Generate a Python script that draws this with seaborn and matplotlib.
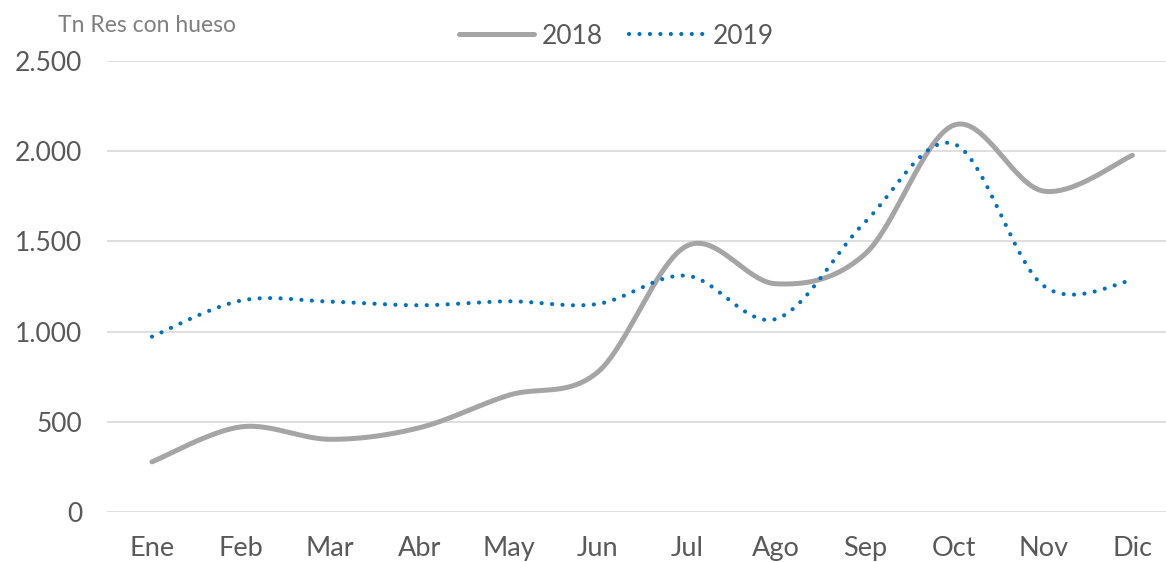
import numpy as np
import pandas as pd
import matplotlib
matplotlib.use("Agg")
import matplotlib.pyplot as plt
from matplotlib.ticker import FuncFormatter
from matplotlib.lines import Line2D
import seaborn as sns

months = ["Ene", "Feb", "Mar", "Abr", "May", "Jun", "Jul", "Ago", "Sep", "Oct", "Nov", "Dic"]
vals_2018 = [278, 472, 403, 467, 647, 775, 1475, 1265, 1430, 2145, 1779, 1977]
vals_2019 = [972, 1172, 1166, 1146, 1168, 1153, 1310, 1070, 1607, 2040, 1255, 1284]
series_names = ["2018", "2019"]
y_ticks = [0, 500, 1000, 1500, 2000, 2500]
y_label = "Tn Res con hueso"


def smooth(xs, ys, n=40):
    """Excel-style smoothed line (Catmull-Rom as cubic Bezier)."""
    xs = np.asarray(xs, float)
    ys = np.asarray(ys, float)
    px = np.concatenate([[xs[0]], xs, [xs[-1]]])
    py = np.concatenate([[ys[0]], ys, [ys[-1]]])
    ox, oy = [], []
    t = np.linspace(0, 1, n)
    for i in range(1, len(px) - 2):
        p0 = np.array([px[i], py[i]])
        p3 = np.array([px[i + 1], py[i + 1]])
        c1 = p0 + (p3 - np.array([px[i - 1], py[i - 1]])) / 6.0
        c2 = p3 - (np.array([px[i + 2], py[i + 2]]) - p0) / 6.0
        b = ((1 - t) ** 3)[:, None] * p0 + (3 * (1 - t) ** 2 * t)[:, None] * c1 \
            + (3 * (1 - t) * t ** 2)[:, None] * c2 + (t ** 3)[:, None] * p3
        if i > 1:
            b = b[1:]
        ox.extend(b[:, 0])
        oy.extend(b[:, 1])
    return np.array(ox), np.array(oy)


sns.set_style("white")
plt.rcParams["font.family"] = ["Lato", "DejaVu Sans"]

fig = plt.figure(figsize=(11.66, 5.62), dpi=100)
ax = fig.add_axes([107.4 / 1166, 50 / 562, 1069.6 / 1166, 451 / 562])

x = np.arange(len(months))
frames = []
for name, vals in zip(series_names, [vals_2018, vals_2019]):
    sx, sy = smooth(x, vals)
    frames.append(pd.DataFrame({"x": sx, "y": sy, "serie": name}))
df = pd.concat(frames, ignore_index=True)

gray = "#A5A5A5"
blue = "#0070C0"

sns.lineplot(data=df[df.serie == "2018"], x="x", y="y", sort=False, ax=ax,
             color=gray, linewidth=3.6, solid_capstyle="round", legend=False)
sns.lineplot(data=df[df.serie == "2019"], x="x", y="y", sort=False, ax=ax,
             color=blue, linewidth=3.0, legend=False,
             linestyle=(0, (0.01, 2.5)), dash_capstyle="round")

ax.set_xlim(-0.5, len(months) - 0.5)
ax.set_ylim(0, 2500)
ax.set_xticks(x)
ax.set_xticklabels(months)
ax.set_yticks(y_ticks)
ax.yaxis.set_major_formatter(FuncFormatter(lambda v, p: f"{int(v):,}".replace(",", ".")))
ax.grid(axis="y", color="#D9D9D9", linewidth=1.2)
ax.grid(axis="x", visible=False)
ax.set_axisbelow(True)
for s in ax.spines.values():
    s.set_visible(False)
ax.tick_params(axis="both", length=0, labelsize=19, colors="#595959")
ax.tick_params(axis="x", labelsize=19.5)
ax.tick_params(axis="y", pad=18)
ax.tick_params(axis="x", pad=17)
ax.set_xlabel("")
ax.set_ylabel("")

fig.text(58 / 1166, 1 - 26 / 562, y_label, fontsize=16.5, color="#7F7F7F",
         ha="left", va="center")

handles = [
    Line2D([], [], color=gray, linewidth=3.6, solid_capstyle="round"),
    Line2D([], [], color=blue, linewidth=3.0, linestyle=(0, (0.01, 2.5)),
           dash_capstyle="round"),
]
leg = fig.legend(handles, series_names, loc="center", bbox_to_anchor=(616 / 1166, 1 - 36 / 562),
                 ncol=2, frameon=False, fontsize=19, handlelength=2.85, handletextpad=0.3,
                 columnspacing=1.0, labelcolor="#595959")

fig.savefig("out.png", dpi=100)
